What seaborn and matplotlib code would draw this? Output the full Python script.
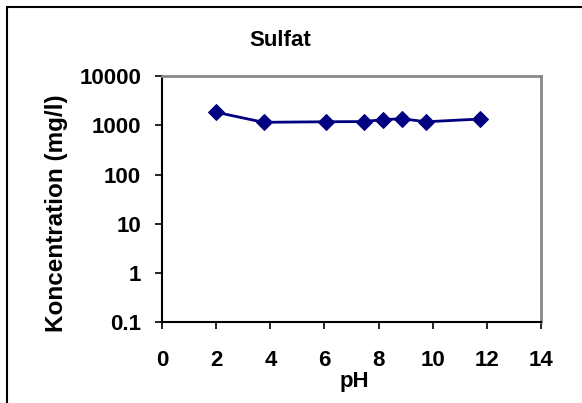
import matplotlib
matplotlib.use("Agg")
import matplotlib.pyplot as plt
import seaborn as sns
import pandas as pd
from matplotlib.lines import Line2D

ph = [2.0, 3.75, 6.05, 7.45, 8.15, 8.85, 9.75, 11.75]
koncentration = [1840, 1150, 1180, 1190, 1300, 1360, 1180, 1340]
x_ticks = [0, 2, 4, 6, 8, 10, 12, 14]
y_ticks = [0.1, 1, 10, 100, 1000, 10000]
y_labels = ["0.1", "1", "10", "100", "1000", "10000"]

sns.set_theme(style="white")
plt.rcParams['font.family'] = ['Liberation Sans', 'DejaVu Sans']
plt.rcParams['font.weight'] = 'bold'
plt.rcParams['text.color'] = 'black'
plt.rcParams['xtick.color'] = 'black'
plt.rcParams['ytick.color'] = 'black'
plt.rcParams['axes.labelcolor'] = 'black'

fig = plt.figure(figsize=(5.82, 4.03), dpi=100)
ax = fig.add_axes([0.2784, 0.1998, 0.9296 - 0.2784, 0.8114 - 0.1998])

df = pd.DataFrame({"pH": ph, "c": koncentration})
sns.lineplot(data=df, x="pH", y="c", ax=ax, color="#000080", linewidth=2.0,
             marker="D", markersize=8.5, markeredgecolor="#000080", sort=False)

ax.set_yscale("log")
ax.set_xlim(0, 14)
ax.set_ylim(0.1, 10000)
ax.set_xticks(x_ticks)
ax.set_xticklabels([str(t) for t in x_ticks], fontsize=16, fontweight='bold', color='black')
ax.set_yticks(y_ticks)
ax.set_yticklabels(y_labels, fontsize=16, fontweight='bold', color='black')
ax.minorticks_off()
ax.tick_params(axis='both', which='major', direction='out', length=5, width=1.2,
               color='black', left=True, bottom=True)
ax.tick_params(axis='y', pad=10)
ax.tick_params(axis='x', pad=15)

for s in ['left', 'bottom']:
    ax.spines[s].set_color('black')
    ax.spines[s].set_linewidth(1.5)
for s in ['top', 'right']:
    ax.spines[s].set_color('#888888')
    ax.spines[s].set_linewidth(2.0)

ax.set_xlabel("")
ax.set_ylabel("")
fig.text(354 / 582, 1 - 381 / 403, "pH", ha='center', va='center', fontsize=16,
         fontweight='bold', color='black')
fig.text(56 / 582, 1 - 213 / 403, "Koncentration (mg/l)", ha='center', va='center',
         rotation=90, fontsize=17.5, fontweight='bold', color='black')
fig.text(280 / 582, 1 - 41 / 403, "Sulfat", ha='center', va='center', fontsize=16,
         fontweight='bold', color='black')

# outer chart border (top and left visible)
fig.add_artist(Line2D([6.5 / 582, 6.5 / 582], [0, 1 - 6.5 / 403], transform=fig.transFigure,
                      color='black', linewidth=1.5))
fig.add_artist(Line2D([6.5 / 582, 1], [1 - 6.5 / 403, 1 - 6.5 / 403], transform=fig.transFigure,
                      color='black', linewidth=1.5))

fig.savefig("out.png", dpi=100)
